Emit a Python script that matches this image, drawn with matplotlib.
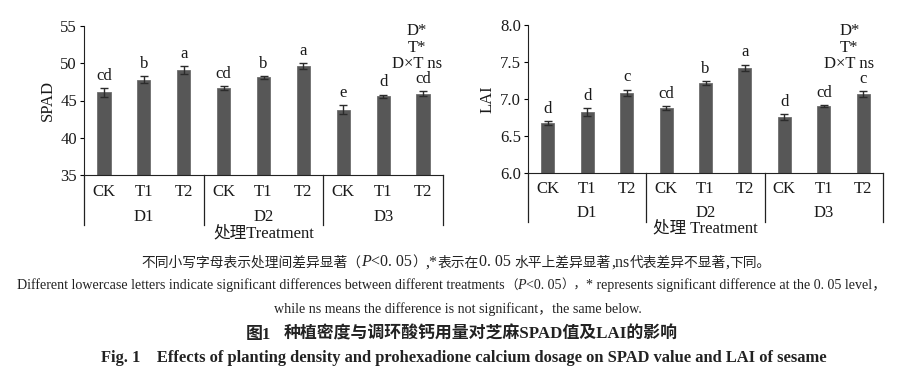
import matplotlib
matplotlib.use("Agg")
import matplotlib.pyplot as plt
import matplotlib.transforms as mtransforms
import numpy as np

plt.rcParams['font.family'] = ['Liberation Serif', 'Noto Sans CJK SC']

groups = ["D1", "D2", "D3"]
treatments = ["CK", "T1", "T2"]

spad_values = [46.1, 47.8, 49.1, 46.65, 48.1, 49.6, 43.75, 45.6, 45.9]
spad_errors = [0.6, 0.5, 0.55, 0.3, 0.15, 0.4, 0.6, 0.2, 0.35]
spad_letters = ["cd", "b", "a", "cd", "b", "a", "e", "d", "cd"]

lai_values = [6.67, 6.82, 7.085, 6.875, 7.21, 7.42, 6.75, 6.90, 7.07]
lai_errors = [0.025, 0.05, 0.04, 0.025, 0.025, 0.045, 0.04, 0.015, 0.04]
lai_letters = ["d", "d", "c", "cd", "b", "a", "d", "cd", "c"]

sig_text = "D*\nT*\nD×T ns"

W, H = 906, 377
fig = plt.figure(figsize=(W / 100, H / 100), dpi=100)

BAR = "#575757"
ERR = "#2b2b2b"
TXT = "#1a1a1a"
FS = 12


def panel(rect, values, errors, letters, ylim, yticks, yfmt, ylabel,
          line_depth, tick_y, grp_y, xlabel, xlabel_y, sig_xy):
    ax = fig.add_axes(rect)
    x = np.arange(len(values))
    ax.bar(x, values, width=0.33, color=BAR, edgecolor="#6e6e6e", linewidth=0.6,
           yerr=errors, error_kw=dict(ecolor=ERR, elinewidth=1.0, capsize=3, capthick=1.0))
    ax.set_xlim(-0.5, len(values) - 0.5)
    ax.set_ylim(*ylim)
    ax.set_yticks(yticks)
    ax.set_yticklabels([yfmt.format(t) for t in yticks], fontsize=FS, color=TXT)
    ax.tick_params(axis='y', length=3, width=0.8, pad=2)
    ax.set_xticks([])
    for s in ["top", "right"]:
        ax.spines[s].set_visible(False)
    ax.spines["left"].set_color("#222222")
    ax.spines["bottom"].set_color("#222222")
    ax.set_ylabel(ylabel, fontsize=FS, color=TXT, labelpad=3)
    trans = mtransforms.blended_transform_factory(ax.transData, ax.transAxes)
    for xs in [-0.5, 2.5, 5.5, 8.5]:
        ax.plot([xs, xs], [0, -line_depth], transform=trans, color="#222222",
                lw=0.9, clip_on=False)
    for i, v in enumerate(values):
        ax.text(i, tick_y, treatments[i % 3], transform=trans, ha="center",
                va="center", fontsize=FS, color=TXT)
        ax.annotate(letters[i], (i, v + errors[i]), xytext=(0, 3),
                    textcoords="offset points", ha="center", va="bottom",
                    fontsize=FS, color=TXT)
    for g, name in enumerate(groups):
        ax.text(3 * g + 1, grp_y, name, transform=trans, ha="center",
                va="center", fontsize=FS, color=TXT)
    ax.text(0.5, xlabel_y, xlabel, transform=ax.transAxes, ha="center",
            va="center", fontsize=FS, color=TXT)
    ax.text(sig_xy[0], sig_xy[1], sig_text, transform=trans, ha="center",
            va="top", fontsize=FS, color=TXT, linespacing=1.06)
    return ax


panel([84 / W, 1 - 175 / H, 359 / W, 149 / H], spad_values, spad_errors,
      spad_letters, (35, 55), [35, 40, 45, 50, 55], "{:.0f}", "SPAD",
      0.336, -0.114, -0.282, "处理Treatment", -0.39, (7.85, 1.02))

panel([528 / W, 1 - 172.7 / H, 355 / W, 147.7 / H], lai_values, lai_errors,
      lai_letters, (6.0, 8.0), [6.0, 6.5, 7.0, 7.5, 8.0], "{:.1f}", "LAI",
      0.334, -0.11, -0.273, "处理 Treatment", -0.38, (7.65, 1.015))

renderer = fig.canvas.get_renderer()
CAP = "#222222"


def pieces_line(y_px, pieces, cx=453):
    texts = []
    for s, kw in pieces:
        t = fig.text(0, 1 - y_px / H, s, va="baseline", ha="left", color=CAP, **kw)
        texts.append(t)
    widths = [t.get_window_extent(renderer).width for t in texts]
    total = sum(widths)
    x = cx - total / 2
    for t, w in zip(texts, widths):
        t.set_x(x / W)
        x += w


cn = dict(fontsize=9.9)
an = dict(fontsize=11.5)
ai = dict(fontsize=11.5, style="italic")
pieces_line(266.5, [("不同小写字母表示处理间差异显著（", cn), ("P", ai),
                    ("<0. 05", an), ("）", cn), (",*", an), ("表示在", cn),
                    ("0. 05 ", an), ("水平上差异显著", cn), (",ns", an),
                    ("代表差异不显著", cn), (",", an), ("下同。", cn)], cx=456)

en = dict(fontsize=10.1)
pieces_line(289, [("Different lowercase letters indicate significant differences between different treatments", en),
                  ("（", dict(fontsize=9)),
                  ("P", dict(fontsize=10.1, style="italic")),
                  ("<0. 05", en), ("），", dict(fontsize=9)),
                  ("* represents significant difference at the 0. 05 level，", en)], cx=452)
pieces_line(313, [("while ns means the difference is not significant，the same below.", en)], cx=458)
pieces_line(338.5, [("图1", dict(fontsize=12.2, fontweight="bold")),
                    ("   ", dict(fontsize=12.2)),
                    ("种植密度与调环酸钙用量对芝麻SPAD值及LAI的影响",
                     dict(fontsize=12.2, fontweight="bold"))], cx=462)
pieces_line(362.5, [("Fig. 1    Effects of planting density and prohexadione calcium dosage on SPAD value and LAI of sesame",
                     dict(fontsize=11.9, fontweight="bold"))], cx=464)

fig.savefig("out.png", dpi=100)
